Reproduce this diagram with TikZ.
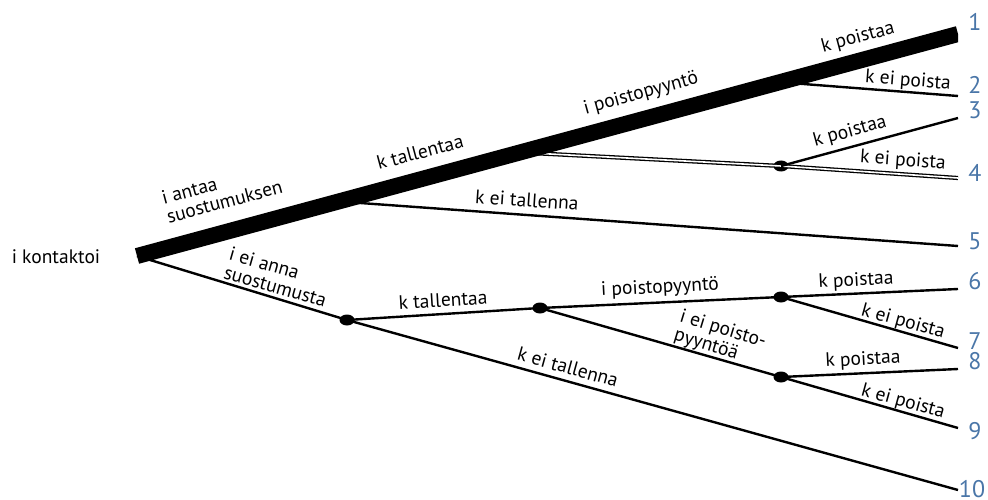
\documentclass[tikz,border=0pt]{standalone}
\usepackage{fontspec}
\setmainfont{PT Sans}
\usetikzlibrary{calc,shapes.geometric}
\definecolor{numblue}{RGB}{74,118,168}
\begin{document}
\begin{tikzpicture}[x=1pt,y=-1pt,
  branch/.style={line width=2.4pt},
  dbl/.style={double, line width=1.3pt, double distance=1.6pt},
  mainline/.style={line width=16pt},
  dot/.style={ellipse, fill=black, minimum width=15pt, minimum height=11pt, inner sep=0pt},
  lbl/.style={font=\fontsize{19.5}{19.5}\selectfont, inner sep=0pt},
  lbl2/.style={lbl, align=left},
  num/.style={font=\fontsize{24}{24}\selectfont, text=numblue, inner sep=0pt}]
\useasboundingbox (0,0) rectangle (988,500);
% start and end points
\coordinate (R) at (137,256);
\coordinate (E1) at (958,34);
\coordinate (E2) at (958,96);
\coordinate (E3) at (958,118);
\coordinate (E4) at (958,178);
\coordinate (E5) at (958,246);
\coordinate (E6) at (958,289);
\coordinate (E7) at (958,348);
\coordinate (E8) at (958,369);
\coordinate (E9) at (958,428);
\coordinate (E10) at (958,490);
% branch points on the thick line
\coordinate (P5) at ($(R)!0.2457!(E1)$);
\coordinate (P4) at ($(R)!0.4665!(E1)$);
\coordinate (P2) at ($(R)!0.783!(E1)$);
% dots
\node[dot] (A) at (347,320) {};
\node[dot] (B) at (540,308) {};
\node[dot] (C) at (781,297) {};
\node[dot] (D) at (781,377) {};
\node[dot] (F) at (781,166) {};
% connectors
\draw[branch] (P5) -- (E5);
\draw[branch] (P2) -- (E2);
\draw[dbl] (P4) -- (F.center) -- (E4);
\draw[branch] (F.center) -- (E3);
\begin{scope}
\clip (0,0) rectangle (958,500);
\draw[mainline] (R) -- (E1);
\end{scope}
\draw[branch] (R) -- (A.center);
\draw[branch] (A.center) -- (B.center);
\draw[branch] (A.center) -- (E10);
\draw[branch] (B.center) -- (C.center);
\draw[branch] (B.center) -- (D.center);
\draw[branch] (C.center) -- (E6);
\draw[branch] (C.center) -- (E7);
\draw[branch] (D.center) -- (E8);
\draw[branch] (D.center) -- (E9);
% numbers
\node[num] (n1) at (975,22) {1};
\node[num] (n2) at (975,85) {2};
\node[num] (n3) at (975,110) {3};
\node[num] (n4) at (975,173) {4};
\node[num] (n5) at (975,241) {5};
\node[num] (n6) at (975,281) {6};
\node[num] (n7) at (975,341) {7};
\node[num] (n8) at (975,361) {8};
\node[num] (n9) at (975,431) {9};
\node[num] (n10) at (972,489) {10};
% labels
\node[lbl] (l0) at (56,257) {i kontaktoi};
\node[lbl2, rotate=15] (l1) at (222,192) {i antaa\\suostumuksen};
\node[lbl, rotate=15] (l2) at (420,152) {k tallentaa};
\node[lbl, rotate=15.5] (l3) at (641,94) {i poistopyyntö};
\node[lbl, rotate=15] (l4) at (858,38) {k poistaa};
\node[lbl, rotate=-4.5] (l5) at (908,81) {k ei poista};
\node[lbl, rotate=15.5] (l6) at (850,132) {k poistaa};
\node[lbl, rotate=-4] (l7) at (903,161) {k ei poista};
\node[lbl, rotate=-4] (l8) at (527,200) {k ei tallenna};
\node[lbl2, rotate=-16] (l9) at (278,277) {i ei anna\\suostumusta};
\node[lbl, rotate=3.5] (l10) at (443,300) {k tallentaa};
\node[lbl, rotate=3] (l11) at (660,288) {i poistopyyntö};
\node[lbl2, rotate=-17] (l12) at (720,339) {i ei poisto-\\pyyntöä};
\node[lbl, rotate=-15.5] (l13) at (568,367) {k ei tallenna};
\node[lbl, rotate=3] (l14) at (856,281) {k poistaa};
\node[lbl, rotate=-15.5] (l15) at (903,322) {k ei poista};
\node[lbl, rotate=3] (l16) at (863,360) {k poistaa};
\node[lbl, rotate=-15.5] (l17) at (903,402) {k ei poista};
\end{tikzpicture}
\end{document}
